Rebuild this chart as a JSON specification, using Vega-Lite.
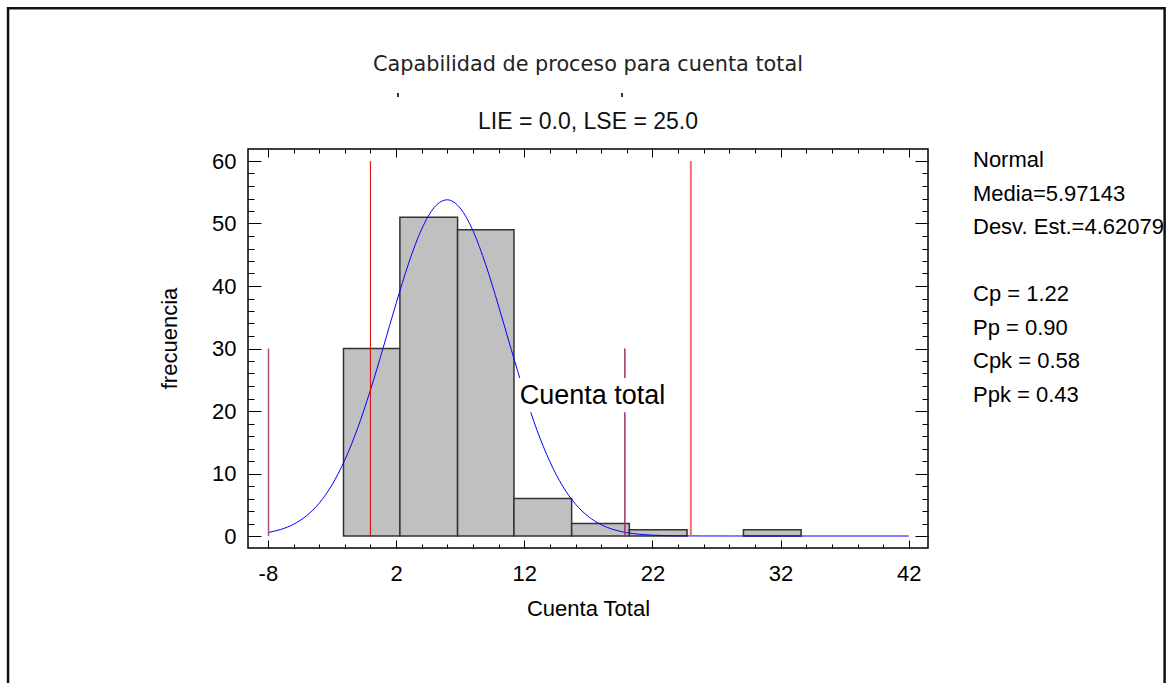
{
  "$schema": "https://vega.github.io/schema/vega-lite/v6.json",
  "width": 680,
  "height": 399,
  "autosize": "none",
  "padding": {"left": 248, "top": 149, "right": 240, "bottom": 135},
  "background": "white",
  "title": {
    "text": "Capabilidad de proceso para cuenta total",
    "subtitle": "LIE = 0.0, LSE = 25.0",
    "font": "DejaVu Sans",
    "fontSize": 20.8,
    "fontWeight": "normal",
    "color": "#222222",
    "subtitleFont": "Liberation Sans",
    "subtitleFontSize": 23,
    "subtitleColor": "#111111",
    "subtitlePadding": 35,
    "offset": -128,
    "anchor": "middle",
    "frame": "group"
  },
  "datasets": {
    "bins": [
      {"inicio": -2.1, "fin": 2.3, "frecuencia": 30},
      {"inicio": 2.3, "fin": 6.8, "frecuencia": 51},
      {"inicio": 6.8, "fin": 11.2, "frecuencia": 49},
      {"inicio": 11.2, "fin": 15.7, "frecuencia": 6},
      {"inicio": 15.7, "fin": 20.2, "frecuencia": 2},
      {"inicio": 20.2, "fin": 24.7, "frecuencia": 1},
      {"inicio": 29.1, "fin": 33.6, "frecuencia": 1}
    ],
    "curva": [
      {"x": -8, "y": 0.557}, {"x": -7, "y": 1.046}, {"x": -6, "y": 1.876}, {"x": -5, "y": 3.211},
      {"x": -4, "y": 5.243}, {"x": -3, "y": 8.169}, {"x": -2, "y": 12.147}, {"x": -1, "y": 17.235},
      {"x": 0, "y": 23.336}, {"x": 1, "y": 30.154}, {"x": 2, "y": 37.179}, {"x": 3, "y": 43.742},
      {"x": 4, "y": 49.111}, {"x": 5, "y": 52.614}, {"x": 6, "y": 53.789}, {"x": 7, "y": 52.474},
      {"x": 8, "y": 48.848}, {"x": 9, "y": 43.392}, {"x": 10, "y": 36.783}, {"x": 11, "y": 29.753},
      {"x": 12, "y": 22.965}, {"x": 13, "y": 16.915}, {"x": 14, "y": 11.89}, {"x": 15, "y": 7.973},
      {"x": 16, "y": 5.105}, {"x": 17, "y": 3.118}, {"x": 18, "y": 1.817}, {"x": 19, "y": 1.01},
      {"x": 20, "y": 0.536}, {"x": 21, "y": 0.271}, {"x": 22, "y": 0.131}, {"x": 23, "y": 0.061},
      {"x": 24, "y": 0.027}, {"x": 26, "y": 0.004}, {"x": 28, "y": 0.001}, {"x": 30, "y": 0},
      {"x": 34, "y": 0}, {"x": 38, "y": 0}, {"x": 42, "y": 0}
    ],
    "sigma": [
      {"x": -7.95, "alto": 30, "tipo": "-3 sigma"},
      {"x": 19.85, "alto": 30, "tipo": "+3 sigma"}
    ],
    "especificacion": [
      {"x": 0, "alto": 60, "tipo": "LIE"},
      {"x": 25, "alto": 60, "tipo": "LSE"}
    ],
    "estadisticos": [
      {"linea": "Normal"},
      {"linea": "Media=5.97143"},
      {"linea": "Desv. Est.=4.62079"},
      {"linea": " "},
      {"linea": "Cp = 1.22"},
      {"linea": "Pp = 0.90"},
      {"linea": "Cpk = 0.58"},
      {"linea": "Ppk = 0.43"}
    ]
  },
  "layer": [
    {
      "data": {"name": "bins"},
      "mark": {"type": "rect", "fill": "#c0c0c0", "stroke": "#333333", "strokeWidth": 1.5},
      "encoding": {
        "x": {
          "field": "inicio", "type": "quantitative",
          "scale": {"domain": [-9.55, 43.5], "nice": false, "zero": false},
          "axis": {"orient": "bottom", "values": [-8, 2, 12, 22, 32, 42], "tickSize": -8, "labelPadding": 23, "labelFontSize": 22, "labelExpr": "datum.value + ''", "title": "Cuenta Total", "titleFontSize": 22, "titleFontWeight": "normal", "titlePadding": 14}
        },
        "x2": {"field": "fin"},
        "y": {
          "field": "frecuencia", "type": "quantitative",
          "scale": {"domain": [-1.92, 61.92], "nice": false, "zero": false},
          "axis": {"orient": "left", "values": [0, 10, 20, 30, 40, 50, 60], "tickSize": -13, "labelPadding": 25, "labelFontSize": 22, "title": "frecuencia", "titleFontSize": 22, "titleFontWeight": "normal", "titlePadding": 30, "titleY": 189}
        },
        "y2": {"datum": 0}
      }
    },
    {
      "data": {"name": "curva"},
      "mark": {"type": "line", "color": "#0000ff", "strokeWidth": 1, "interpolate": "monotone"},
      "encoding": {
        "x": {"field": "x", "type": "quantitative",
          "axis": {"orient": "bottom", "values": [-8, -6, -4, -2, 0, 2, 4, 6, 8, 10, 12, 14, 16, 18, 20, 22, 24, 26, 28, 30, 32, 34, 36, 38, 40, 42], "tickSize": -4, "labels": false, "title": null}},
        "y": {"field": "y", "type": "quantitative",
          "axis": {"orient": "left", "values": [0, 2, 4, 6, 8, 10, 12, 14, 16, 18, 20, 22, 24, 26, 28, 30, 32, 34, 36, 38, 40, 42, 44, 46, 48, 50, 52, 54, 56, 58, 60], "tickSize": -6, "labels": false, "title": null}}
      }
    },
    {
      "data": {"name": "sigma"},
      "mark": {"type": "rule", "strokeWidth": 1.5},
      "encoding": {
        "x": {"field": "x", "type": "quantitative",
          "axis": {"orient": "top", "values": [-8, 2, 12, 22, 32, 42], "tickSize": -8, "labels": false, "title": null}},
        "y": {"field": "alto", "type": "quantitative",
          "axis": {"orient": "right", "values": [0, 10, 20, 30, 40, 50, 60], "tickSize": -13, "labels": false, "title": null}},
        "y2": {"datum": 0},
        "color": {"field": "tipo", "type": "nominal", "scale": {"domain": ["-3 sigma", "+3 sigma", "LIE", "LSE"], "range": ["#b0507f", "#a0306a", "#e00000", "#ff6a6a"]}, "legend": null}
      }
    },
    {
      "data": {"name": "especificacion"},
      "mark": {"type": "rule"},
      "encoding": {
        "x": {"field": "x", "type": "quantitative",
          "axis": {"orient": "top", "values": [-8, -6, -4, -2, 0, 2, 4, 6, 8, 10, 12, 14, 16, 18, 20, 22, 24, 26, 28, 30, 32, 34, 36, 38, 40, 42], "tickSize": -4, "labels": false, "title": null}},
        "y": {"field": "alto", "type": "quantitative",
          "axis": {"orient": "right", "values": [0, 2, 4, 6, 8, 10, 12, 14, 16, 18, 20, 22, 24, 26, 28, 30, 32, 34, 36, 38, 40, 42, 44, 46, 48, 50, 52, 54, 56, 58, 60], "tickSize": -6, "labels": false, "title": null}},
        "y2": {"datum": 0},
        "color": {"field": "tipo", "type": "nominal", "scale": {"domain": ["-3 sigma", "+3 sigma", "LIE", "LSE"], "range": ["#b0507f", "#a0306a", "#e00000", "#ff6a6a"]}, "legend": null},
        "strokeWidth": {"field": "tipo", "type": "nominal", "scale": {"domain": ["LIE", "LSE"], "range": [1, 2]}, "legend": null}
      }
    },
    {
      "data": {"values": [{}]},
      "mark": {"type": "rect", "fill": "white"},
      "encoding": {
        "x": {"datum": 11.45, "type": "quantitative", "axis": null},
        "x2": {"datum": 23.4},
        "y": {"datum": 19.8, "type": "quantitative", "axis": null},
        "y2": {"datum": 25.3}
      }
    },
    {
      "data": {"values": [{}]},
      "mark": {"type": "text", "text": "Cuenta total", "align": "left", "baseline": "middle", "font": "Liberation Sans", "fontSize": 27, "color": "black"},
      "encoding": {
        "x": {"datum": 11.65, "type": "quantitative", "axis": null},
        "y": {"datum": 22.4, "type": "quantitative", "axis": null}
      }
    },
    {
      "data": {"values": [{}]},
      "mark": {"type": "rule", "strokeWidth": 2, "color": "#333333"},
      "encoding": {
        "x": {"datum": 2.15, "type": "quantitative", "axis": null},
        "y": {"datum": 70.88, "type": "quantitative", "axis": null},
        "y2": {"datum": 70.24}
      }
    },
    {
      "data": {"values": [{}]},
      "mark": {"type": "rule", "strokeWidth": 2, "color": "#333333"},
      "encoding": {
        "x": {"datum": 19.63, "type": "quantitative", "axis": null},
        "y": {"datum": 70.88, "type": "quantitative", "axis": null},
        "y2": {"datum": 70.24}
      }
    },
    {
      "data": {"values": [{}]},
      "mark": {"type": "rect", "fill": "transparent", "stroke": "#111111", "strokeWidth": 2.5},
      "encoding": {
        "x": {"datum": -28.27, "type": "quantitative", "axis": null},
        "x2": {"datum": 61.96},
        "y": {"datum": 84.45, "type": "quantitative", "axis": null},
        "y2": {"datum": -26}
      }
    },
    {
      "data": {"name": "estadisticos"},
      "mark": {"type": "point", "opacity": 0},
      "encoding": {
        "shape": {
          "field": "linea", "type": "nominal",
          "scale": {"domain": ["Normal", "Media=5.97143", "Desv. Est.=4.62079", " ", "Cp = 1.22", "Pp = 0.90", "Cpk = 0.58", "Ppk = 0.43"]},
          "legend": {"title": null, "orient": "right", "offset": 22, "padding": 0, "symbolSize": 0, "symbolOpacity": 0, "symbolStrokeWidth": 0, "labelOffset": 0, "labelFont": "Liberation Sans", "labelFontSize": 22, "labelColor": "black", "labelLimit": 500, "rowPadding": 11.5}
        }
      }
    }
  ],
  "resolve": {"axis": {"x": "independent", "y": "independent"}},
  "config": {
    "view": {"stroke": "black", "strokeWidth": 1.5},
    "font": "Liberation Sans",
    "axis": {"grid": false, "domain": false, "tickColor": "black", "tickWidth": 1, "labelColor": "black", "titleColor": "black", "labelFont": "Liberation Sans", "titleFont": "Liberation Sans", "labelFlush": false, "labelOverlap": false}
  }
}
